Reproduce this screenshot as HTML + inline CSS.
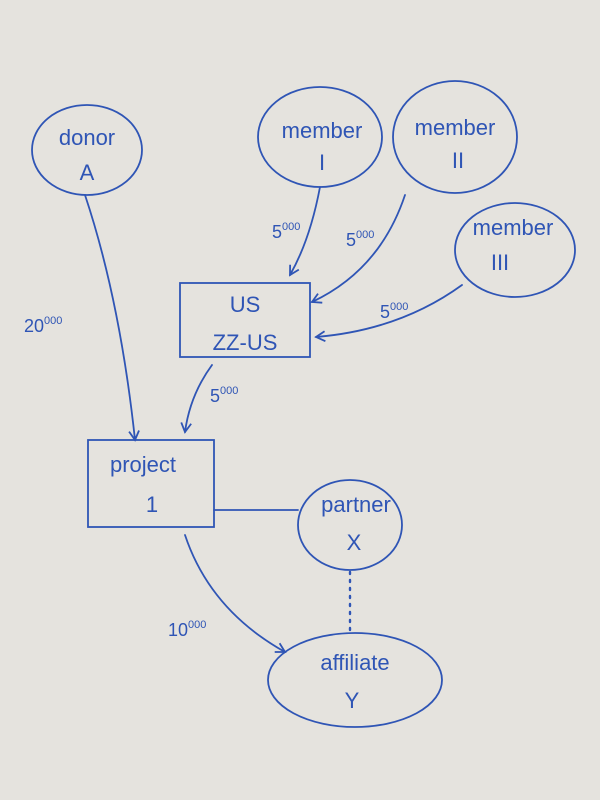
<!DOCTYPE html>
<html><head><meta charset="utf-8"><style>
html,body{margin:0;padding:0;background:#e5e3de;}
svg{display:block}
text{font-family:"Liberation Sans",sans-serif;fill:#2f55b5;}
</style></head><body>
<svg width="600" height="800" viewBox="0 0 600 800" xmlns="http://www.w3.org/2000/svg">
<defs>
<marker id="a" viewBox="0 0 12 12" refX="10" refY="6" markerWidth="12" markerHeight="12" orient="auto" markerUnits="userSpaceOnUse">
<path d="M1,1 L10,6 L1,11" fill="none" stroke="#2f55b5" stroke-width="1.8"/>
</marker>
</defs>
<rect width="600" height="800" fill="#e5e3de"/>
<g fill="none" stroke="#2f55b5" stroke-width="1.8" stroke-linecap="round">
<ellipse cx="87" cy="150" rx="55" ry="45"/>
<ellipse cx="320" cy="137" rx="62" ry="50"/>
<ellipse cx="455" cy="137" rx="62" ry="56"/>
<ellipse cx="515" cy="250" rx="60" ry="47"/>
<rect x="180" y="283" width="130" height="74"/>
<rect x="88" y="440" width="126" height="87"/>
<ellipse cx="350" cy="525" rx="52" ry="45"/>
<ellipse cx="355" cy="680" rx="87" ry="47"/>
<path d="M85,195 Q120,300 135,440" marker-end="url(#a)"/>
<path d="M320,187 Q310,240 290,275" marker-end="url(#a)"/>
<path d="M405,195 Q380,270 312,302" marker-end="url(#a)"/>
<path d="M462,285 Q400,330 316,337" marker-end="url(#a)"/>
<path d="M212,365 Q190,395 185,432" marker-end="url(#a)"/>
<path d="M214,510 L298,510"/>
<path d="M185,535 Q210,610 285,652" marker-end="url(#a)"/>
<path d="M350,572 L350,632" stroke-dasharray="2 6" stroke-width="2.4"/>
</g>
<g font-size="22" text-anchor="middle">
<text x="87" y="145">donor</text>
<text x="87" y="180">A</text>
<text x="322" y="138">member</text>
<text x="322" y="170">I</text>
<text x="455" y="135">member</text>
<text x="458" y="168">II</text>
<text x="513" y="235">member</text>
<text x="500" y="270">III</text>
<text x="245" y="312">US</text>
<text x="245" y="350">ZZ-US</text>
<text x="143" y="472">project</text>
<text x="152" y="512">1</text>
<text x="356" y="512">partner</text>
<text x="354" y="550">X</text>
<text x="355" y="670">affiliate</text>
<text x="352" y="708">Y</text>
</g>
<g font-size="18">
<text x="24" y="332">20<tspan font-size="11" dy="-8">000</tspan></text>
<text x="272" y="238">5<tspan font-size="11" dy="-8">000</tspan></text>
<text x="346" y="246">5<tspan font-size="11" dy="-8">000</tspan></text>
<text x="380" y="318">5<tspan font-size="11" dy="-8">000</tspan></text>
<text x="210" y="402">5<tspan font-size="11" dy="-8">000</tspan></text>
<text x="168" y="636">10<tspan font-size="11" dy="-8">000</tspan></text>
</g>
</svg>
</body></html>
